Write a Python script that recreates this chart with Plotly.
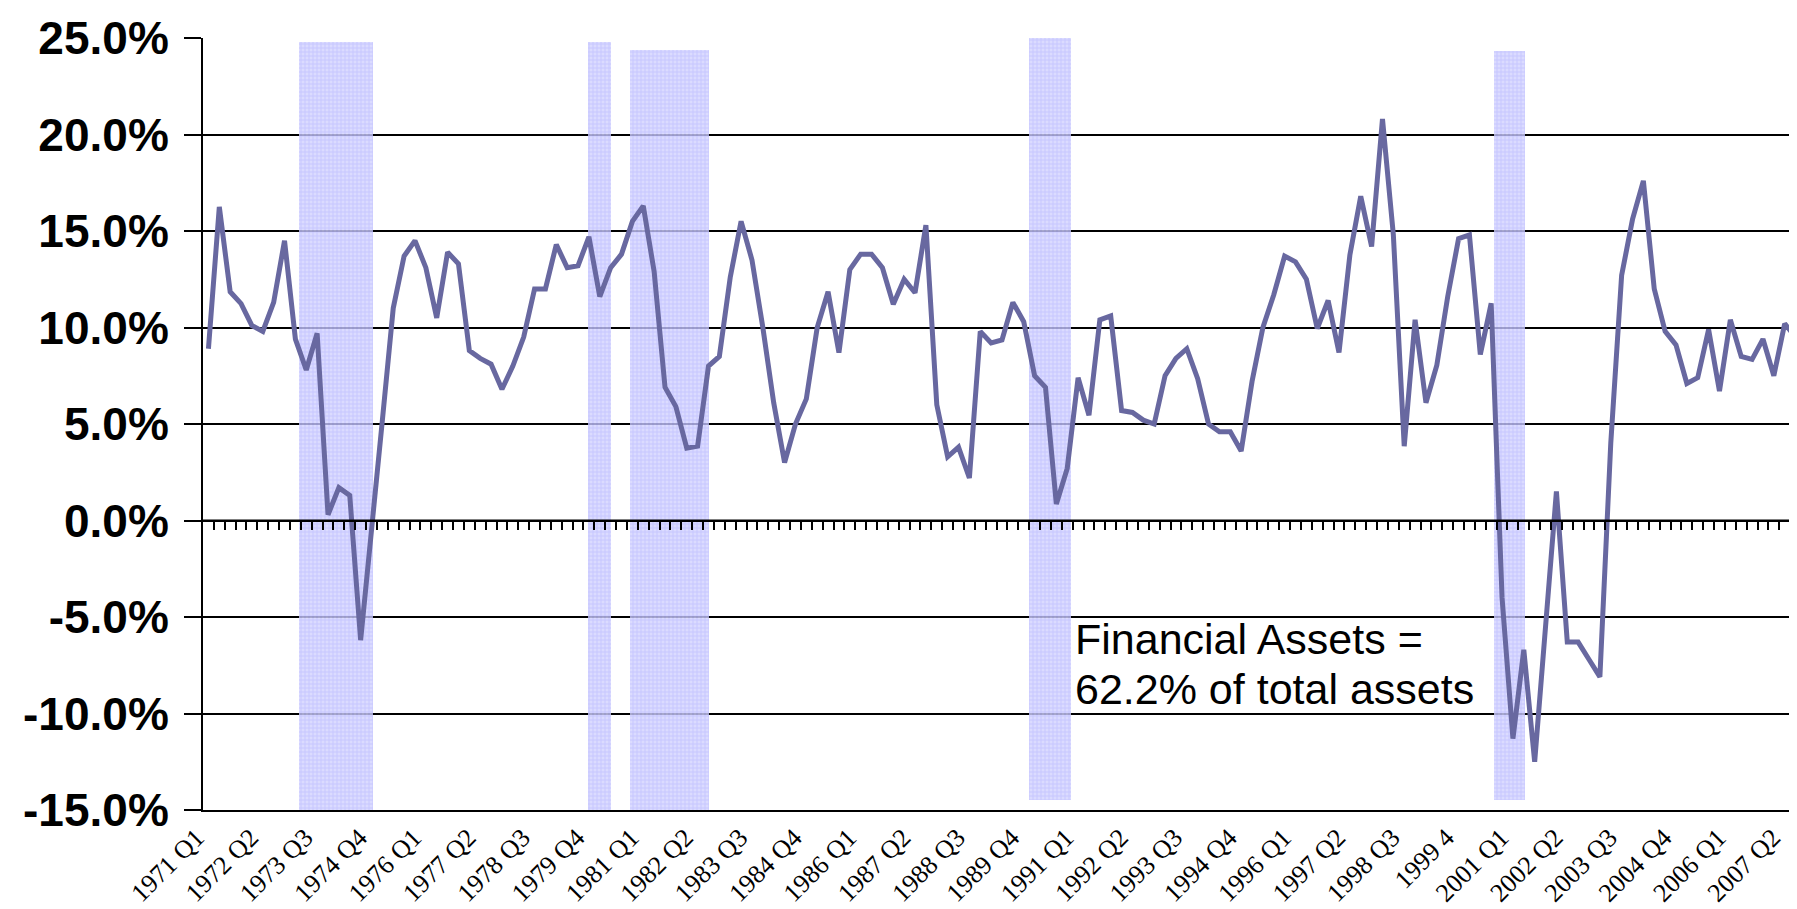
import plotly.graph_objects as go

# ---------------- data ----------------
growth_pct = [
    8.9, 16.25, 11.85, 11.24, 10.1, 9.8, 11.3, 14.5, 9.4, 7.8,
    9.7, 0.3, 1.7, 1.3, -6.2, -0.2, 5.2, 11.0, 13.7, 14.5,
    13.1, 10.5, 13.9, 13.3, 8.8, 8.4, 8.1, 6.8, 8.0, 9.5,
    12.0, 12.0, 14.3, 13.1, 13.2, 14.7, 11.6, 13.1, 13.8, 15.5,
    16.3, 12.9, 6.9, 5.9, 3.75, 3.85, 8.0, 8.5, 12.6, 15.5,
    13.5, 10.0, 6.1, 3.0, 5.0, 6.3, 10.0, 11.85, 8.7, 13.0,
    13.8, 13.8, 13.1, 11.2, 12.5, 11.8, 15.3, 6.0, 3.3, 3.8,
    2.2, 9.8, 9.2, 9.35, 11.3, 10.3, 7.5, 6.9, 0.85, 2.7,
    7.4, 5.45, 10.4, 10.6, 5.7, 5.6, 5.2, 5.0, 7.5, 8.4,
    8.9, 7.35, 5.0, 4.6, 4.6, 3.6, 7.2, 10.0, 11.7, 13.7,
    13.4, 12.5, 9.95, 11.4, 8.7, 13.75, 16.8, 14.2, 20.8, 14.8,
    3.85, 10.4, 6.1, 8.05, 11.6, 14.6, 14.8, 8.6, 11.25, -4.0,
    -11.3, -6.7, -12.5, -5.5, 1.5, -6.3, -6.3, -7.2, -8.1, 4.0,
    12.7, 15.6, 17.6, 12.0, 9.8, 9.1, 7.1, 7.4, 9.9, 6.7,
    10.4, 8.5, 8.35, 9.4, 7.5, 10.2, 9.5,
]

quarters = [f"{y} Q{q}" for y in range(1971, 2008) for q in range(1, 5)][:len(growth_pct)]

x_tick_text = [
    "1971 Q1", "1972 Q2", "1973 Q3", "1974 Q4", "1976 Q1", "1977 Q2",
    "1978 Q3", "1979 Q4", "1981 Q1", "1982 Q2", "1983 Q3", "1984 Q4",
    "1986 Q1", "1987 Q2", "1988 Q3", "1989 Q4", "1991 Q1", "1992 Q2",
    "1993 Q3", "1994 Q4", "1996 Q1", "1997 Q2", "1998 Q3", "1999 4",
    "2001 Q1", "2002 Q2", "2003 Q3", "2004 Q4", "2006 Q1", "2007 Q2",
]
x_tick_every = 5

y_tick_vals = [-15, -10, -5, 0, 5, 10, 15, 20, 25]
y_tick_text = ["-15.0%", "-10.0%", "-5.0%", "0.0%", "5.0%", "10.0%", "15.0%", "20.0%", "25.0%"]

# recession shading (in quarter-index units / percent units)
recession_start = [8.35, 34.95, 38.75, 75.5, 118.25]
recession_end = [15.1, 37.03, 46.05, 79.35, 121.1]
recession_top = [24.8, 24.8, 24.4, 25.15, 24.35]
recession_bottom = [-15.0, -15.0, -15.4, -14.5, -14.5]

note_lines = ["Financial Assets =", "62.2% of total assets"]
note_x = 79.5
note_y = [-6.15, -8.75]

# ---------------- figure ----------------
n = len(growth_pct)
xs = list(range(n))
x_range = [-0.5, n - 0.5]

fig = go.Figure()

fig.add_trace(go.Bar(
    x=[(s + e) / 2 for s, e in zip(recession_start, recession_end)],
    y=[t - b for t, b in zip(recession_top, recession_bottom)],
    base=recession_bottom,
    width=[e - s for s, e in zip(recession_start, recession_end)],
    marker=dict(color="#c8c8ff", opacity=0.8, line=dict(width=0),
                pattern=dict(shape="+", fgcolor="#8c8cff", bgcolor="#d2d2ff",
                             size=4, solidity=0.3)),
    cliponaxis=False,
    hoverinfo="skip",
))

# zero line with category tick marks (secondary axis)
fig.add_trace(go.Scatter(
    x=x_range, y=[0, 0], mode="lines",
    line=dict(color="black", width=2),
    xaxis="x2", yaxis="y", hoverinfo="skip",
))

fig.add_trace(go.Scatter(
    x=xs, y=growth_pct, mode="lines",
    line=dict(color="#6868a0", width=5),
    customdata=quarters,
    hovertemplate="%{customdata}: %{y:.1f}%<extra></extra>",
))

for line_text, ly in zip(note_lines, note_y):
    fig.add_annotation(
        x=note_x, y=ly, xref="x", yref="y",
        text=line_text, showarrow=False,
        xanchor="left", yanchor="middle", align="left",
        font=dict(family="Liberation Sans, Arial", size=43, color="black"),
    )

fig.update_layout(
    width=1797, height=909,
    margin=dict(l=195, r=4, t=30, b=107),
    plot_bgcolor="white", paper_bgcolor="white",
    showlegend=False, bargap=0,
    xaxis=dict(
        range=x_range, automargin=False,
        tickmode="array",
        tickvals=xs[::x_tick_every], ticktext=x_tick_text,
        tickangle=-45, ticks="", ticklabelshift=-12,
        tickfont=dict(family="Liberation Serif, Times New Roman", size=26, color="black"),
        showgrid=False, zeroline=False,
        showline=True, linecolor="black", linewidth=2,
    ),
    xaxis2=dict(
        overlaying="x", anchor="free", position=0.375, side="bottom",
        range=x_range, automargin=False,
        tickmode="array", tickvals=[i - 0.5 for i in range(1, n)],
        ticks="outside", ticklen=8, tickwidth=2, tickcolor="black",
        showticklabels=False, showgrid=False, zeroline=False,
        showline=True, linecolor="black", linewidth=2,
    ),
    yaxis=dict(
        range=[-15, 25], automargin=False,
        tickmode="array", tickvals=y_tick_vals, ticktext=y_tick_text,
        ticks="outside", ticklen=17, tickwidth=2, tickcolor="black",
        ticklabelstandoff=6,
        tickfont=dict(family="Liberation Sans, Arial", size=46, color="black", weight="bold"),
        showgrid=True, gridcolor="black", gridwidth=2,
        zeroline=False,
        showline=True, linecolor="black", linewidth=2,
    ),
)

fig.write_html("out.html")
